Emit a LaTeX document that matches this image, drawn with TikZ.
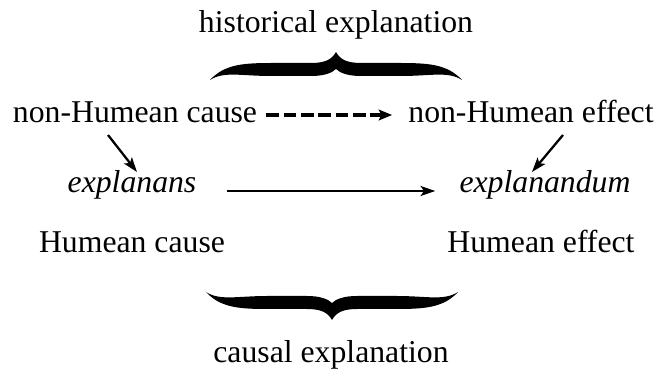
\documentclass[tikz,border=0pt]{standalone}
\usepackage{fontspec}
\setmainfont{Liberation Serif}
\usepackage{tikz}
\usetikzlibrary{arrows.meta,positioning,calc}
\tikzset{
  lbl/.style={inner sep=0pt, anchor=base, font=\fontsize{23.8}{28}\selectfont},
  ilbl/.style={lbl, font=\fontsize{23.8}{28}\selectfont\itshape},
  flow/.style={-{Stealth[length=11pt, width=7.5pt, inset=2.5pt]}, line width=1.5pt},
  dflow/.style={-{Stealth[length=10pt, width=8pt, inset=2pt]}, line width=2.4pt,
    dash pattern=on 9.5pt off 3.5pt},
  sflow/.style={-{Stealth[length=11pt, width=7.5pt, inset=2.5pt]}, line width=1.7pt},
  hbrace/.pic={
    \fill (-126,28) .. controls (-112,13) and (-95,11) .. (-65,11) -- (-25,11)
      .. controls (-10,11) and (-4,7) .. (0,0)
      .. controls (4,7) and (10,11) .. (25,11) -- (65,11)
      .. controls (95,11) and (112,13) .. (126,28)
      .. controls (112,19) and (95,24) .. (65,24) -- (25,24)
      .. controls (12,24) and (4,21) .. (0,17)
      .. controls (-4,21) and (-12,24) .. (-25,24) -- (-65,24)
      .. controls (-95,24) and (-112,19) .. (-126,28) -- cycle;
  }
}

\begin{document}
\begin{tikzpicture}[x=0.75pt, y=-0.75pt]
  \useasboundingbox (0,0) rectangle (658,374);
  % upper row
  \node[lbl] (hist) at (336,33) {historical explanation};
  \pic at (336,52) {hbrace};
  \node[lbl] (nhc) at (135,123) {non-Humean cause};
  \node[lbl] (nhe) at (531,123) {non-Humean effect};
  \draw[dflow] ([shift={(9,-8)}]nhc.base east) -- ([shift={(-16,-8)}]nhe.base west);

  % middle row
  \node[ilbl] (expl) at (132,193) {explanans};
  \node[ilbl] (expd) at (545,193) {explanandum};
  \draw[sflow] ([shift={(-27,12)}]nhc.base) -- ([shift={(5,-21)}]expl.base);
  \draw[sflow] ([shift={(32,12)}]nhe.base) -- ([shift={(-13,-21)}]expd.base);
  \draw[flow] ([shift={(30,-2)}]expl.base east) -- ([shift={(-24,-2)}]expd.base west);

  % lower row
  \node[lbl] (hc) at (132,253) {Humean cause};
  \node[lbl] (he) at (541,253) {Humean effect};
  \pic[yscale=-1] at (332,320) {hbrace};
  \node[lbl] (caus) at (331,363) {causal explanation};
\end{tikzpicture}
\end{document}
